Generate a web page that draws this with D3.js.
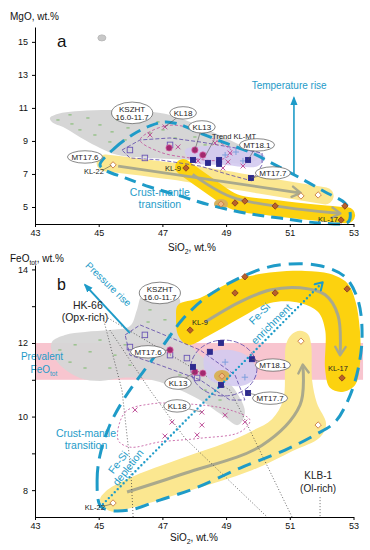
<!DOCTYPE html>
<html><head><meta charset="utf-8">
<script src="https://cdn.jsdelivr.net/npm/d3@7"></script>
<style>
body{margin:0;background:#fff;}
svg{display:block;font-family:"Liberation Sans",Arial,sans-serif;}
</style></head><body>
<svg id="c" width="370" height="550"></svg>
<script>
// ---------- axes ----------
const xTicks=[43,45,47,49,51,53];
const mgoTicks=[5,7,9,11,13,15];
const feoTicks=[8,9,10,11,12,13,14];
const feoLabelled=[8,10,12,14];

// ---------- panel a (SiO2, MgO) ----------
const aGrayField=[[43.47,10.39],[43.85,10.70],[44.41,10.82],[45.35,10.88],[46.30,10.82],[47.08,10.64],[47.87,10.15],[48.65,9.48],[49.44,8.76],[50.13,8.15],[49.75,7.67],[48.81,7.73],[47.87,7.85],[46.61,7.97],[45.61,8.15],[45.04,8.58],[44.57,9.06],[43.94,9.79],[43.53,10.15]];
const aGreen=[[43.72,10.27],[44.16,10.03],[44.66,10.39],[45.04,9.97],[45.61,10.27],[44.41,9.67],[44.88,9.36],[45.42,9.55],[45.92,9.79],[46.30,10.15],[46.61,9.48],[45.35,8.94],[45.83,9.06],[47.02,9.67],[47.40,9.18],[48.02,9.24],[46.86,10.15],[48.34,8.76],[44.10,10.58],[49.12,8.45]];
const aOutlier=[[45.1,15.24]];
const aOutline=[[45.04,7.55],[45.51,8.58],[46.05,9.36],[46.61,9.91],[47.08,10.15],[47.49,10.03],[48.18,9.48],[48.97,8.88],[49.81,8.27],[50.54,7.55],[51.32,6.76],[52.11,5.91],[52.73,5.24],[52.89,4.70],[52.83,4.09],[51.95,4.03],[50.69,4.33],[49.59,4.64],[48.49,5.12],[47.55,5.67],[46.61,6.21],[45.83,6.76],[45.20,7.24]];
const aPaleBand=[[45.20,7.67],[47.71,7.06],[50.06,6.33],[52.11,5.67]];
const aBrightBand=[[47.65,7.42],[48.49,6.27],[49.28,5.30],[50.54,4.94],[51.95,4.64],[52.80,4.50]];
const aPaleArrow=[[45.61,7.48],[51.30,5.86]];
const aBrightArrow=[[47.95,6.98],[49.20,5.58],[52.55,4.62]];
const aTempArrow=[[51.13,6.88],[51.13,11.61]];
const aMTEnvelope=[[45.73,8.45],[46.30,9.06],[47.24,9.18],[48.18,8.94],[49.28,8.58],[50.13,8.27],[50.13,7.55],[49.81,6.58],[49.12,6.94],[48.18,7.48],[46.92,7.85],[45.98,7.97]];
const aLavender=[[47.71,8.45],[48.65,8.70],[49.75,8.45],[50.22,8.03],[50.00,7.48],[48.97,7.55],[47.93,7.73]];
const aKLEnvelope=[[46.30,9.06],[47.08,9.91],[47.87,9.79],[48.65,9.06],[49.19,8.33],[48.81,7.85],[47.87,7.97],[46.92,8.33]];
const aKLx=[[47.08,9.85],[48.65,8.88],[49.12,8.27],[47.49,8.64],[48.12,7.79],[49.06,7.73],[49.53,7.48],[48.90,7.36],[46.61,9.36]];
const aKLcircles=[[47.21,8.58],[48.02,8.45],[48.27,8.15]];
const aMTopen=[[45.98,8.45],[46.45,7.97],[47.24,8.76]];
const aMTfilled=[[47.96,7.85],[48.43,7.67],[48.78,7.85],[48.78,7.61],[49.69,7.85],[49.78,6.76]];
const aPlus=[[48.97,8.15],[49.53,7.79],[49.31,8.33]];
const aKLdiamonds=[[47.74,7.36],[49.28,5.24],[49.59,5.36],[50.54,5.06],[52.73,5.06],[52.61,4.21]];
const aWhiteDiamonds=[[45.45,7.55],[51.35,5.67],[51.89,5.73]];
const aPaleDiamond=[[48.84,5.18]];

// ---------- panel b (SiO2, FeOtot) ----------
const bPrevalent=[[43,11],[53.3,12]];
const bGrayField=[[43.53,12.03],[43.94,12.22],[44.57,12.30],[45.35,12.35],[45.98,12.46],[46.20,12.90],[46.36,13.31],[46.77,13.52],[47.30,13.50],[47.55,13.17],[47.55,12.68],[47.65,12.22],[48.02,11.81],[48.65,11.32],[49.28,10.72],[49.59,10.12],[49.37,9.77],[48.87,10.04],[48.18,10.45],[47.55,10.72],[46.92,10.94],[46.30,11.05],[45.67,11.05],[45.04,10.97],[44.41,11.05],[43.78,11.40],[43.53,11.76]];
const bGreen=[[43.78,11.81],[44.26,11.95],[44.73,11.76],[45.04,12.08],[45.51,11.67],[44.10,11.48],[44.57,11.32],[45.35,11.32],[45.83,11.95],[45.98,11.40],[46.61,12.90],[46.92,13.17],[47.08,12.63],[46.55,12.57],[47.24,12.22],[48.34,10.72],[48.81,10.45],[47.55,11.13]];
const bOutline=[[45.04,7.59],[44.95,8.27],[45.04,8.95],[45.35,9.77],[45.83,10.53],[46.39,11.21],[47.08,12.0],[47.62,12.63],[48.34,13.22],[49.28,13.71],[50.22,14.04],[51.01,14.15],[51.95,14.10],[52.73,13.80],[53.14,13.17],[53.27,12.22],[53.14,11.27],[52.83,10.45],[52.42,9.85],[51.79,9.50],[50.85,9.09],[49.44,8.60],[48.02,8.05],[46.92,7.73],[45.98,7.46],[45.29,7.46]];
const bBoomerang=[[47.49,13.03],[48.18,13.22],[48.97,13.58],[49.75,13.82],[50.54,13.93],[51.48,13.96],[52.26,13.88],[52.80,13.63],[53.05,13.17],[53.20,12.35],[53.20,11.40],[53.05,10.86],[52.64,10.67],[52.26,10.78],[52.11,11.27],[52.11,12.35],[51.89,12.84],[51.32,13.09],[50.38,13.09],[49.44,12.68],[48.49,12.22],[47.80,11.95],[47.49,12.22],[47.43,12.68]];
const bBoomArrow=[[48.34,12.57],[49.44,13.12],[50.38,13.44],[51.32,13.50],[52.11,13.31],[52.51,12.76],[52.58,11.70]];
const bPaleBand=[[45.04,7.73],[45.20,7.95],[45.89,8.30],[47.71,8.90],[48.97,9.28],[49.81,9.61],[50.44,9.93],[50.79,10.45],[50.85,11.27],[50.88,11.95],[51.04,12.22],[51.32,12.33],[51.57,12.24],[51.67,11.95],[51.70,10.99],[51.85,10.37],[52.14,9.80],[51.95,9.44],[51.07,9.06],[49.81,8.54],[47.71,7.95],[45.98,7.51],[45.35,7.43]];
const bPaleArrow=[[45.89,7.95],[47.71,8.46],[50.13,9.22],[51.32,10.31],[51.41,11.38]];
const bFeSiArrow=[[45.04,7.54],[52.01,13.63]];
const bPressureArrow=[[45.98,12.27],[44.57,13.58]];
const bMixLines=[
  [[45.35,12.35],[46.61,10.72],[47.71,9.41],[50.29,7.27]],
  [[45.29,12.68],[49.12,10.72],[49.44,10.18],[51.07,7.27]],
  [[45.14,12.68],[45.73,10.72],[46.01,8.54],[46.08,7.27]],
  [[51.95,7.81],[51.95,7.27]]
];
const bMTEnvelope=[[45.83,12.22],[46.30,12.49],[46.92,12.27],[48.18,11.81],[49.28,11.13],[49.59,10.45],[49.12,10.45],[48.18,11.00],[46.92,11.40],[45.98,11.67]];
const bMTCircleCentre=[48.93,11.32], bMTCircleRadius=[1.04,0.76];
const bLavender=[[48.34,11.67],[49.12,11.81],[49.75,11.59],[49.97,11.13],[49.59,10.86],[48.97,10.86],[48.43,11.05]];
const bKhaki=[[48.87,11.10]];
const bMTfilled=[[47.96,11.35],[48.49,11.76],[48.84,12.0],[49.81,11.56],[48.84,10.86],[49.69,10.64]];
const bPlus=[[48.97,11.48],[49.59,11.07]];
const bMTopen=[[46.45,12.22],[45.98,11.89],[47.24,11.67],[47.77,11.59],[48.09,11.05]];
const bKLcircles=[[47.24,11.81],[48.02,11.21],[48.27,11.18]];
const bKL18Envelope=[[45.61,9.36],[45.83,10.12],[46.61,10.34],[47.87,10.34],[49.12,10.18],[49.75,9.90],[49.44,9.58],[48.18,9.41],[46.92,9.31],[45.98,9.17]];
const bKLx=[[46.14,10.18],[47.30,9.85],[47.08,9.47],[48.24,10.12],[48.97,10.04],[49.59,9.85],[48.24,9.77],[48.09,9.50]];
const bKLdiamonds=[[49.59,13.80],[49.28,13.36],[50.54,13.36],[52.80,13.47],[47.87,12.35],[52.64,11.05]];
const bWhiteDiamonds=[[45.45,7.65],[51.35,12.05],[51.89,9.77]];
const bPaleDiamond=[[48.87,11.10]];

// ---------- annotations ----------
const aBubbles=[
  {name:["KSZHT","16.0-11.7"],at:[46.05,10.70]},
  {name:["KL18"],at:[47.65,10.70],to:[47.08,9.85]},
  {name:["KL13"],at:[48.24,9.85],to:[48.02,8.45]},
  {name:["MT18.1"],at:[49.97,8.76],to:[49.69,7.85]},
  {name:["MT17.7"],at:[50.47,7.06],to:[49.78,6.76]},
  {name:["MT17.6"],at:[44.57,8.03]}
];
const bBubbles=[
  {name:["KSZHT","16.0-11.7"],at:[46.92,13.36]},
  {name:["MT17.6"],at:[46.55,11.76],to:[47.24,11.81]},
  {name:["KL13"],at:[47.49,10.91],to:[48.02,11.21]},
  {name:["KL18"],at:[47.46,10.29],to:[48.24,10.12]},
  {name:["MT18.1"],at:[50.47,11.40],to:[49.81,11.56]},
  {name:["MT17.7"],at:[50.38,10.50],to:[49.69,10.64]}
];
const aSampleLabels=[
  {t:"KL-22",at:[44.85,7.18],to:[45.40,7.52]},
  {t:"KL-9",at:[47.33,7.36]},
  {t:"KL-17",at:[52.20,4.27]}
];
const bSampleLabels=[
  {t:"KL-9",at:[48.18,12.57]},
  {t:"KL-17",at:[52.51,11.32]},
  {t:"KL-22",at:[44.88,7.54],to:[45.40,7.62]}
];

// ---------- setup ----------
const teal="#1e9bc8", gold="#fcd20f", pale="#fbe790", olive="#aaa98c",
      brown="#b8602a", purple="#5b45a8", navy="#2d2a8e";
const svg=d3.select("#c");
const X=d3.scaleLinear().domain([43,53]).range([35,353.5]);
const YA=d3.scaleLinear().domain([3.97,15.9]).range([224,27]);
const YB=d3.scaleLinear().domain([7.27,14.12]).range([517,265]);

const defs=svg.append("defs");
function marker(id,color,type,size){
  const m=defs.append("marker").attr("id",id).attr("viewBox","0 0 10 10")
    .attr("refX",type==="tri"?8:7).attr("refY",5).attr("markerWidth",size).attr("markerHeight",size)
    .attr("markerUnits","userSpaceOnUse").attr("orient","auto");
  if(type==="tri") m.append("path").attr("d","M0,1L10,5L0,9Z").attr("fill",color);
  else m.append("path").attr("d","M1.5,1L8,5L1.5,9").attr("fill","none").attr("stroke",color)
    .attr("stroke-width",1.8).attr("stroke-linecap","round").attr("stroke-linejoin","round");
}
marker("tealTri",teal,"tri",9);
marker("tealChev",teal,"chev",11);
marker("oliveChev",olive,"chev",13);

function gen(Y,curve){return d3.line().x(d=>X(d[0])).y(d=>Y(d[1])).curve(curve);}
const closedC=d3.curveCatmullRomClosed.alpha(0.5), openC=d3.curveCatmullRom.alpha(0.5);

function squares(g,pts,Y,fill,stroke,s){
  g.append("g").selectAll("rect").data(pts).join("rect")
   .attr("x",d=>X(d[0])-s/2).attr("y",d=>Y(d[1])-s/2).attr("width",s).attr("height",s)
   .attr("fill",fill).attr("stroke",stroke).attr("stroke-width",0.9);
}
function diamonds(g,pts,Y,fill,stroke,s){
  g.append("g").selectAll("path").data(pts).join("path")
   .attr("d",d=>`M${X(d[0])},${Y(d[1])-s}l${s},${s}l${-s},${s}l${-s},${-s}z`)
   .attr("fill",fill).attr("stroke",stroke).attr("stroke-width",0.9);
}
function crosses(g,pts,Y,color,s,plus){
  g.append("g").selectAll("path").data(pts).join("path")
   .attr("d",d=>{const x=X(d[0]),y=Y(d[1]);
     return plus?`M${x-s},${y}h${2*s}M${x},${y-s}v${2*s}`:`M${x-s},${y-s}l${2*s},${2*s}M${x-s},${y+s}l${2*s},${-2*s}`;})
   .attr("stroke",color).attr("stroke-width",1).attr("fill","none");
}
function circles(g,pts,Y){
  g.append("g").selectAll("circle").data(pts).join("circle")
   .attr("cx",d=>X(d[0])).attr("cy",d=>Y(d[1])).attr("r",3.2)
   .attr("fill","#a3286f").attr("stroke","#e070b0").attr("stroke-width",0.7);
}
function greens(g,pts,Y){
  g.append("g").selectAll("path").data(pts).join("path")
   .attr("d",d=>`M${X(d[0])-1.6},${Y(d[1])}h3.2`).attr("stroke","#8fbf80").attr("stroke-width",1.3);
}
function bubbles(g,list,Y){
  list.forEach(b=>{
    if(b.to) g.append("line").attr("x1",X(b.at[0])).attr("y1",Y(b.at[1])).attr("x2",X(b.to[0])).attr("y2",Y(b.to[1]))
      .attr("stroke","#555").attr("stroke-width",0.6);
  });
  list.forEach(b=>{
    const cx=X(b.at[0]),cy=Y(b.at[1]);
    const el=g.append("ellipse").attr("cx",cx).attr("cy",cy).attr("fill","#fff").attr("stroke","#555").attr("stroke-width",0.7);
    const t=g.append("text").attr("text-anchor","middle").attr("font-size",8).attr("fill","#222");
    const n=b.name.length;
    b.name.forEach((s,i)=>t.append("tspan").attr("x",cx).attr("y",cy+3+(i-(n-1)/2)*8.5).text(s));
    let w=0; t.selectAll("tspan").each(function(){w=Math.max(w,this.getComputedTextLength());});
    el.attr("rx",w/2+4).attr("ry",n*4.6+1.6);
  });
}
function sampleLabels(g,list,Y){
  list.forEach(l=>{
    if(l.to){
      g.append("line").attr("x1",X(l.at[0])+9).attr("y1",Y(l.at[1])-1).attr("x2",X(l.to[0])).attr("y2",Y(l.to[1]))
       .attr("stroke","#555").attr("stroke-width",0.6);
    }
    g.append("text").attr("x",X(l.at[0])).attr("y",Y(l.at[1])+2.6).attr("text-anchor","middle")
     .attr("font-size",7.5).attr("fill","#222").text(l.t);
  });
}
function tealText(g,lines,x,y,size,rot){
  const t=g.append("text").attr("text-anchor","middle").attr("font-size",size).attr("fill",teal)
    .attr("transform",`translate(${x},${y}) rotate(${rot||0})`);
  lines.forEach((s,i)=>t.append("tspan").attr("x",0).attr("y",i*(size+1.5)).text(s));
  return t;
}
function axes(Y,yTicks,yFmt,yBase){
  const gx=svg.append("g").attr("transform",`translate(0,${yBase})`)
    .call(d3.axisBottom(X).tickValues(xTicks).tickSize(3).tickSizeOuter(0).tickPadding(3));
  const gy=svg.append("g").attr("transform","translate(35,0)")
    .call(d3.axisLeft(Y).tickValues(yTicks).tickFormat(yFmt).tickSize(3).tickSizeOuter(0).tickPadding(4));
  [gx,gy].forEach(a=>{a.attr("font-family","Liberation Sans, Arial, sans-serif").attr("font-size",9);
    a.selectAll("text").attr("fill","#111"); a.selectAll("line,path").attr("stroke","#000").attr("stroke-width",1);});
}

// ================= PANEL A =================
const A=svg.append("g");
A.append("path").attr("d",gen(YA,closedC)(aGrayField)).attr("fill","#d6d6d6");
greens(A,aGreen,YA);
A.append("ellipse").attr("cx",X(aOutlier[0][0])).attr("cy",YA(aOutlier[0][1])).attr("rx",4).attr("ry",3).attr("fill","#c8c8c8").attr("stroke","#bbb");
A.append("path").attr("d",gen(YA,openC)(aPaleBand)).attr("stroke",pale).attr("stroke-width",17)
  .attr("stroke-linecap","round").attr("stroke-linejoin","round").attr("fill","none");
A.append("path").attr("d",gen(YA,openC)(aBrightBand)).attr("stroke",gold).attr("stroke-width",16)
  .attr("stroke-linecap","round").attr("stroke-linejoin","round").attr("fill","none");
A.append("ellipse").attr("cx",X(aPaleDiamond[0][0])).attr("cy",YA(aPaleDiamond[0][1])).attr("rx",7).attr("ry",5).attr("fill","#d8b25c");
A.append("path").attr("d",gen(YA,d3.curveLinear)(aPaleArrow)).attr("stroke",olive).attr("stroke-width",2.8).attr("fill","none").attr("marker-end","url(#oliveChev)");
A.append("path").attr("d",gen(YA,openC)(aBrightArrow)).attr("stroke",olive).attr("stroke-width",2.8).attr("fill","none").attr("marker-end","url(#oliveChev)");
A.append("path").attr("d",gen(YA,closedC)(aLavender)).attr("fill","#d3caef").attr("opacity",0.9);
A.append("path").attr("d",gen(YA,d3.curveLinearClosed)(aMTEnvelope)).attr("fill","none").attr("stroke",purple).attr("stroke-width",0.8).attr("stroke-dasharray","4,2");
A.append("path").attr("d",gen(YA,closedC)(aKLEnvelope)).attr("fill","none").attr("stroke","#c0509a").attr("stroke-width",0.8).attr("stroke-dasharray","3,2");
A.append("path").attr("d",gen(YA,closedC)(aOutline)).attr("fill","none").attr("stroke",teal).attr("stroke-width",3).attr("stroke-dasharray","12,7");
A.append("path").attr("d",gen(YA,d3.curveLinear)(aTempArrow)).attr("stroke",teal).attr("stroke-width",1.6).attr("fill","none").attr("marker-end","url(#tealTri)");
squares(A,aMTopen,YA,"none","#6a55b5",5.5);
crosses(A,aKLx,YA,"#c0509a",2.4,false);
crosses(A,aPlus,YA,"#7e9fdc",3,true);
circles(A,aKLcircles,YA);
squares(A,aMTfilled,YA,navy,navy,5);
diamonds(A,aKLdiamonds,YA,brown,"#8a4020",3.2);
diamonds(A,aWhiteDiamonds,YA,"#fff","#c87a40",3.2);
diamonds(A,aPaleDiamond,YA,"#f0b880","#c87a40",3.2);
bubbles(A,aBubbles,YA);
sampleLabels(A,aSampleLabels,YA);
A.append("text").attr("x",X(48.56)).attr("y",YA(9.30)+3).attr("font-size",7.5).attr("fill","#222").text("Trend KL-MT");
A.append("line").attr("x1",X(48.62)).attr("y1",YA(9.05)).attr("x2",X(48.35)).attr("y2",YA(8.1)).attr("stroke","#555").attr("stroke-width",0.6);
tealText(A,["Temperature rise"],X(50.98),YA(12.33)+3.5,10);
tealText(A,["Crust-mantle","transition"],X(46.92),YA(5.67),10.5);
A.append("text").attr("x",57).attr("y",47).attr("font-size",17).attr("fill","#111").text("a");
axes(YA,mgoTicks,d3.format("d"),224);
svg.append("text").attr("x",10).attr("y",20).attr("font-size",10).attr("fill","#111").text("MgO, wt.%");
const tA=svg.append("text").attr("x",168).attr("y",251).attr("font-size",10).attr("fill","#111");
tA.append("tspan").text("SiO"); tA.append("tspan").attr("font-size",7).attr("dy",3).text("2"); tA.append("tspan").attr("dy",-3).text(", wt.%");

// ================= PANEL B =================
const B=svg.append("g");
B.append("rect").attr("x",X(bPrevalent[0][0])).attr("y",YB(bPrevalent[1][1]))
  .attr("width",X(bPrevalent[1][0])-X(bPrevalent[0][0])).attr("height",YB(bPrevalent[0][1])-YB(bPrevalent[1][1])).attr("fill","#f8c5cf");
B.append("path").attr("d",gen(YB,closedC)(bGrayField)).attr("fill","#d6d6d6").attr("opacity",0.95);
greens(B,bGreen,YB);
B.append("path").attr("d",gen(YB,closedC)(bPaleBand)).attr("fill",pale);
B.append("path").attr("d",gen(YB,closedC)(bBoomerang)).attr("fill",gold);
B.append("path").attr("d",gen(YB,openC)(bBoomArrow)).attr("stroke",olive).attr("stroke-width",3).attr("fill","none").attr("marker-end","url(#oliveChev)");
B.append("path").attr("d",gen(YB,openC)(bPaleArrow)).attr("stroke",olive).attr("stroke-width",3).attr("fill","none").attr("marker-end","url(#oliveChev)");
bMixLines.forEach(l=>B.append("path").attr("d",gen(YB,d3.curveLinear)(l)).attr("stroke","#444").attr("stroke-width",0.8)
  .attr("stroke-dasharray","1,2").attr("fill","none"));
B.append("path").attr("d",gen(YB,closedC)(bLavender)).attr("fill","#d3caef").attr("opacity",0.9);
B.append("ellipse").attr("cx",X(bKhaki[0][0])).attr("cy",YB(bKhaki[0][1])).attr("rx",8).attr("ry",6).attr("fill","#d8b25c");
B.append("path").attr("d",gen(YB,d3.curveLinearClosed)(bMTEnvelope)).attr("fill","none").attr("stroke",purple).attr("stroke-width",0.8).attr("stroke-dasharray","4,2");
B.append("ellipse").attr("cx",X(bMTCircleCentre[0])).attr("cy",YB(bMTCircleCentre[1]))
  .attr("rx",X(43+bMTCircleRadius[0])-X(43)).attr("ry",YB(8)-YB(8+bMTCircleRadius[1]))
  .attr("fill","none").attr("stroke",purple).attr("stroke-width",0.8).attr("stroke-dasharray","5,2");
B.append("path").attr("d",gen(YB,closedC)(bKL18Envelope)).attr("fill","none").attr("stroke","#c0509a").attr("stroke-width",0.8).attr("stroke-dasharray","2,2");
B.append("path").attr("d",gen(YB,closedC)(bOutline)).attr("fill","none").attr("stroke",teal).attr("stroke-width",3).attr("stroke-dasharray","14,8");
B.append("path").attr("d",gen(YB,d3.curveLinear)(bFeSiArrow)).attr("stroke",teal).attr("stroke-width",2.4)
  .attr("stroke-dasharray","0,4.2").attr("stroke-linecap","round").attr("fill","none").attr("marker-end","url(#tealChev)");
B.append("path").attr("d",gen(YB,d3.curveLinear)(bPressureArrow)).attr("stroke",teal).attr("stroke-width",2).attr("fill","none").attr("marker-end","url(#tealTri)");
squares(B,bMTopen,YB,"none","#6a55b5",5.5);
crosses(B,bKLx,YB,"#c0509a",2.4,false);
crosses(B,bPlus,YB,"#7e9fdc",3.2,true);
circles(B,bKLcircles,YB);
squares(B,bMTfilled,YB,navy,navy,5);
diamonds(B,bKLdiamonds,YB,brown,"#8a4020",3.2);
diamonds(B,bWhiteDiamonds,YB,"#fff","#c87a40",3.2);
diamonds(B,bPaleDiamond,YB,"#f0b880","#c87a40",3.2);
bubbles(B,bBubbles,YB);
sampleLabels(B,bSampleLabels,YB);
tealText(B,["Pressure rise"],X(45.23),YB(13.61)+3,10,44);
tealText(B,["Fe-Si"],X(50.13),YB(12.82)+3.5,10.5,-45);
tealText(B,["enrichment"],X(50.50),YB(12.54)+3.5,10.5,-45);
tealText(B,["Fe-Si"],X(45.70),YB(8.79)+3.5,10.5,-52);
tealText(B,["depletion"],X(46.01),YB(8.65)+3.5,10.5,-52);
tealText(B,["Crust-mantle","transition"],X(44.60),YB(9.44),10.5);
const pv=B.append("text").attr("text-anchor","middle").attr("font-size",10).attr("fill",teal);
pv.append("tspan").attr("x",X(43.22)).attr("y",YB(11.54)).text("Prevalent");
const pv2=B.append("text").attr("x",X(43.28)).attr("y",YB(11.18)).attr("text-anchor","middle").attr("font-size",10).attr("fill",teal);
pv2.append("tspan").text("FeO"); pv2.append("tspan").attr("font-size",6.5).attr("dy",2.5).text("tot");
const hk=B.append("text").attr("text-anchor","middle").attr("font-size",10.5).attr("fill","#222");
hk.append("tspan").attr("x",X(44.66)).attr("y",YB(12.93)).text("HK-66");
hk.append("tspan").attr("x",X(44.57)).attr("y",YB(12.60)).text("(Opx-rich)");
const klb=B.append("text").attr("text-anchor","middle").attr("font-size",10).attr("fill","#222");
klb.append("tspan").attr("x",X(51.89)).attr("y",YB(8.30)).text("KLB-1");
klb.append("tspan").attr("x",X(51.89)).attr("y",YB(7.95)).text("(Ol-rich)");
B.append("text").attr("x",57).attr("y",290).attr("font-size",16).attr("fill","#111").text("b");
axes(YB,feoTicks,d=>feoLabelled.includes(d)?d:"",517);
const tF=svg.append("text").attr("x",10).attr("y",262).attr("font-size",10).attr("fill","#111");
tF.append("tspan").text("FeO"); tF.append("tspan").attr("font-size",6.5).attr("dy",2.5).text("tot"); tF.append("tspan").attr("dy",-2.5).text(", wt.%");
const tB=svg.append("text").attr("x",170).attr("y",541).attr("font-size",10).attr("fill","#111");
tB.append("tspan").text("SiO"); tB.append("tspan").attr("font-size",7).attr("dy",3).text("2"); tB.append("tspan").attr("dy",-3).text(", wt.%");
</script>
</body></html>
